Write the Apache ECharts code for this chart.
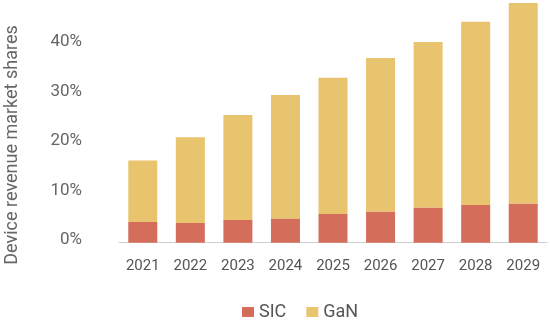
<!DOCTYPE html>
<html>
<head>
<meta charset="utf-8">
<script src="https://cdn.jsdelivr.net/npm/echarts@6/dist/echarts.min.js"></script>
<style>html,body{margin:0;padding:0;background:#fff}#c{width:550px;height:324px}</style>
</head>
<body>
<div id="c"></div>
<script>
var categories = ['2021','2022','2023','2024','2025','2026','2027','2028','2029'];
var sicValues = [4.2, 4.0, 4.6, 4.9, 5.8, 6.3, 7.1, 7.6, 7.9];
var ganValues = [12.4, 17.3, 21.2, 24.9, 27.5, 31.0, 33.4, 37.0, 40.5];
var yTicks = [0, 10, 20, 30, 40];
var seriesNames = ['SIC', 'GaN'];
var yAxisTitle = 'Device revenue market shares';

var chart = echarts.init(document.getElementById('c'), null, {renderer: 'canvas'});
var font = 'Roboto, "Liberation Sans", sans-serif';
chart.setOption({
  animation: false,
  grid: {left: 119, right: 3, top: 0, bottom: 81.3, containLabel: false},
  legend: {
    data: seriesNames,
    top: 298, left: 237,
    itemWidth: 12, itemHeight: 10, itemGap: 20,
    icon: 'rect',
    textStyle: {fontFamily: font, fontSize: 18, color: '#555'}
  },
  graphic: [{
    type: 'text', x: 12, y: 145, rotation: Math.PI / 2,
    style: {text: yAxisTitle, textAlign: 'center', textVerticalAlign: 'middle',
      font: '18px ' + font, fill: '#666'}
  }],
  xAxis: {
    type: 'category', data: categories,
    axisLine: {lineStyle: {color: '#cfcfcf', width: 1}},
    axisTick: {show: false},
    axisLabel: {fontFamily: font, fontSize: 15, color: '#555', margin: 16}
  },
  yAxis: {
    type: 'value', min: 0, max: 49, interval: 10,
    splitLine: {show: false},
    axisLine: {show: false}, axisTick: {show: false},
    axisLabel: {
      fontFamily: font, fontSize: 17, color: '#666', margin: 37,
      verticalAlign: 'bottom', lineHeight: 5,
      formatter: function (v) { return yTicks.indexOf(v) >= 0 ? v + '%' : ''; }
    }
  },
  series: [
    {name: seriesNames[0], type: 'bar', stack: 's', data: sicValues, barWidth: '61%',
      itemStyle: {color: '#D46E5A'}},
    {name: seriesNames[1], type: 'bar', stack: 's', data: ganValues, barWidth: '61%',
      itemStyle: {color: '#E8C46E'}}
  ]
});
</script>
</body>
</html>
